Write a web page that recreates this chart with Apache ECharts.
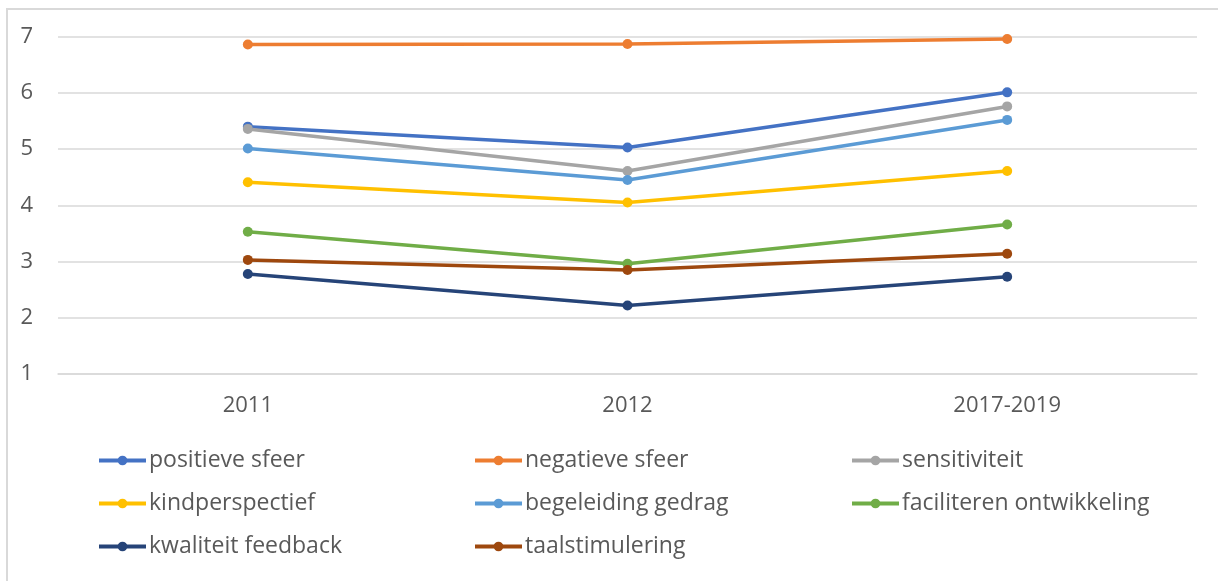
<!DOCTYPE html>
<html>
<head>
<meta charset="utf-8">
<script src="https://cdn.jsdelivr.net/npm/echarts@6/dist/echarts.min.js"></script>
<style>
html,body{margin:0;padding:0;background:#fff;}
#chart{width:1218px;height:581px;}
</style>
</head>
<body>
<div id="chart"></div>
<script>
const categories = ['2011', '2012', '2017-2019'];
const positieveSfeer = [5.40, 5.03, 6.01];
const negatieveSfeer = [6.86, 6.87, 6.96];
const sensitiviteit = [5.36, 4.61, 5.76];
const kindperspectief = [4.41, 4.05, 4.61];
const begeleidingGedrag = [5.01, 4.45, 5.52];
const faciliterenOntwikkeling = [3.53, 2.96, 3.66];
const kwaliteitFeedback = [2.78, 2.22, 2.73];
const taalstimulering = [3.03, 2.85, 3.14];
const yTicks = [1, 2, 3, 4, 5, 6, 7];

const seriesDefs = [
  ['positieve sfeer', positieveSfeer, '#4472C4'],
  ['negatieve sfeer', negatieveSfeer, '#ED7D31'],
  ['sensitiviteit', sensitiviteit, '#A5A5A5'],
  ['kindperspectief', kindperspectief, '#FFC000'],
  ['begeleiding gedrag', begeleidingGedrag, '#5B9BD5'],
  ['faciliteren ontwikkeling', faciliterenOntwikkeling, '#70AD47'],
  ['kwaliteit feedback', kwaliteitFeedback, '#264478'],
  ['taalstimulering', taalstimulering, '#9E480E']
];

const font = '"Open Sans", sans-serif';
const legendText = {fontSize: 23, color: '#595959', fontFamily: font, lineHeight: 22, padding: [0, 0, 0, -2]};
function col(names, left) {
  return {
    orient: 'vertical', left: left, top: 444,
    itemWidth: 47, itemHeight: 12, itemGap: 20,
    lineStyle: {width: 4},
    textStyle: legendText,
    data: names
  };
}

const chart = echarts.init(document.getElementById('chart'));
chart.setOption({
  animation: false,
  backgroundColor: '#fff',
  graphic: [{
    type: 'rect', shape: {x: 7, y: 9, width: 1230, height: 600},
    style: {fill: 'none', stroke: '#D9D9D9', lineWidth: 2}, silent: true
  }],
  grid: {left: 58, right: 21, top: 36.7, bottom: 207},
  legend: [
    col(['positieve sfeer', 'kindperspectief', 'kwaliteit feedback'], 92),
    col(['negatieve sfeer', 'begeleiding gedrag', 'taalstimulering'], 468),
    col(['sensitiviteit', 'faciliteren ontwikkeling'], 845)
  ],
  xAxis: {
    type: 'category', data: categories, boundaryGap: true,
    axisLine: {lineStyle: {color: '#D9D9D9', width: 1.5}},
    axisTick: {show: false},
    axisLabel: {fontSize: 22, color: '#595959', fontFamily: font, margin: 21}
  },
  yAxis: {
    type: 'value', min: yTicks[0], max: yTicks[yTicks.length - 1], interval: 1,
    axisLine: {show: false}, axisTick: {show: false},
    splitLine: {lineStyle: {color: '#D9D9D9', width: 1.5}},
    axisLabel: {fontSize: 22, color: '#595959', fontFamily: font, margin: 25}
  },
  series: seriesDefs.map(([name, data, color]) => ({
    name: name, type: 'line', data: data,
    symbol: 'circle', symbolSize: 10,
    lineStyle: {width: 3.5, color: color},
    itemStyle: {color: color},
    emphasis: {disabled: true}
  }))
});
</script>
</body>
</html>
